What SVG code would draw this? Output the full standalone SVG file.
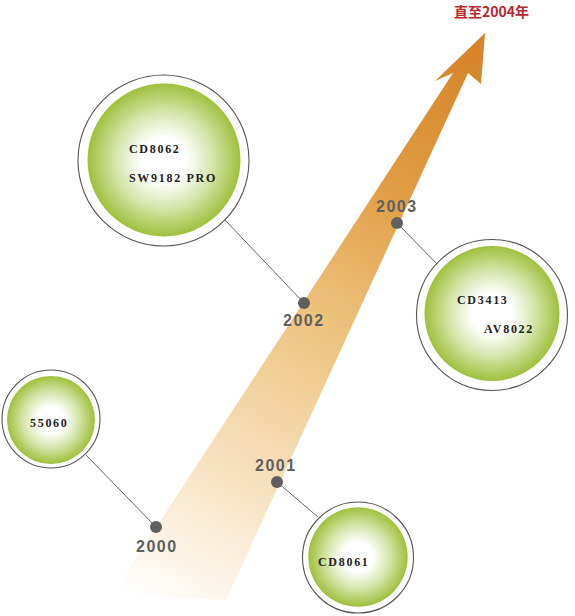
<svg xmlns="http://www.w3.org/2000/svg" width="575" height="616" viewBox="0 0 575 616">
<defs>
<linearGradient id="band" gradientUnits="userSpaceOnUse" x1="160" y1="610" x2="485" y2="33">
<stop offset="0" stop-color="#ffffff"/>
<stop offset="0.06" stop-color="#fdf7ee"/>
<stop offset="0.25" stop-color="#f6e0bc"/>
<stop offset="0.5" stop-color="#edc37e"/>
<stop offset="0.75" stop-color="#e09a40"/>
<stop offset="1" stop-color="#d58226"/>
</linearGradient>
<radialGradient id="green" cx="0.5" cy="0.5" r="0.5">
<stop offset="0" stop-color="#ffffff"/>
<stop offset="0.3" stop-color="#ffffff"/>
<stop offset="0.65" stop-color="#d3e4a6"/>
<stop offset="1" stop-color="#9fc03c"/>
</radialGradient>
</defs>
<style>
.ring{fill:#fff;stroke:#555;stroke-width:1.1}
.ball{fill:url(#green)}
.lbl{font-family:"Liberation Serif","Times New Roman",serif;font-weight:bold;font-size:12px;letter-spacing:1.7px;fill:#222}
.yr{font-family:"Liberation Sans",Arial,sans-serif;font-weight:bold;font-size:16px;letter-spacing:1.5px;fill:#5f5f5f}
.dot{fill:#5f5f5f}
.conn{stroke:#666;stroke-width:1;fill:none}
</style>
<path d="M112,595 L453,73 L435,81 L485,33 L481,84 L468,73 L226,600 Z" fill="url(#band)"/>
<text x="454" y="17" font-family="'Noto Sans CJK SC',sans-serif" font-weight="bold" font-size="14" fill="#b8262e">直至2004年</text>
<g id="connectors">
<line class="conn" x1="86" y1="455" x2="156" y2="527"/>
<line class="conn" x1="277" y1="482" x2="318" y2="517"/>
<line class="conn" x1="225" y1="220" x2="304" y2="303"/>
<line class="conn" x1="397" y1="223" x2="438" y2="265"/>
</g>
<g id="year2000"><circle class="dot" cx="156" cy="527" r="6"/><text class="yr" x="136" y="552">2000</text></g>
<g id="year2001"><circle class="dot" cx="277" cy="482" r="6"/><text class="yr" x="255" y="471">2001</text></g>
<g id="year2002"><circle class="dot" cx="304" cy="303" r="6"/><text class="yr" x="283" y="326">2002</text></g>
<g id="year2003"><circle class="dot" cx="397" cy="223" r="6"/><text class="yr" x="376" y="212">2003</text></g>
<g id="node-55060">
<circle class="ring" cx="51" cy="419" r="49"/>
<circle class="ball" cx="51" cy="420" r="44"/>
<text class="lbl" x="30" y="427">55060</text>
</g>
<g id="node-cd8062">
<circle class="ring" cx="163.5" cy="160.5" r="85.5"/>
<circle class="ball" cx="164" cy="160" r="76.5"/>
<text class="lbl" x="129" y="153">CD8062</text>
<text class="lbl" x="129" y="182">SW9182 PRO</text>
</g>
<g id="node-cd3413">
<circle class="ring" cx="492" cy="315" r="75.5"/>
<circle class="ball" cx="492" cy="313.5" r="67.5"/>
<text class="lbl" x="457" y="304">CD3413</text>
<text class="lbl" x="484" y="333">AV8022</text>
</g>
<g id="node-cd8061">
<circle class="ring" cx="358" cy="557.5" r="55.5"/>
<circle class="ball" cx="358" cy="557" r="49.7"/>
<text class="lbl" x="318" y="566">CD8061</text>
</g>
</svg>
